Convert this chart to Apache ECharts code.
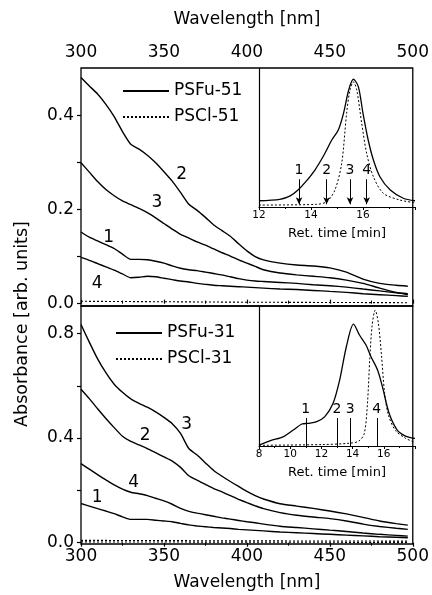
<!DOCTYPE html>
<html>
<head>
    <meta charset="utf-8">
    <title>PSFu / PSCl absorbance</title>
    <script src="https://cdn.jsdelivr.net/npm/echarts@6.0.0/dist/echarts.min.js"></script>
    <style>
        html, body { margin: 0; padding: 0; background: #fff; }
        #chart { width: 432px; height: 595px; }
    </style>
</head>
<body>
<div id="chart"></div>
<script>
    // wavelength grid shared by the UV/vis spectra [nm]
    var wl = [300, 305, 310, 315, 320, 325, 330, 335, 340, 345, 350, 355, 360, 365, 370, 375,
              380, 385, 390, 395, 400, 405, 410, 420, 430, 440, 450, 460, 470, 480, 490, 497];

    // upper panel, PSFu-51 fractions 1..4
    var a51_1 = [.152, .141, .133, .125, .117, .105, .094, .094, .093, .090, .086, .080, .075, .072, .070, .067,
                 .064, .061, .057, .053, .050, .048, .047, .045, .043, .040, .038, .035, .031, .027, .023, .021];
    var a51_2 = [.480, .462, .445, .423, .397, .365, .338, .328, .315, .299, .280, .260, .236, .211, .198, .183,
                 .167, .155, .143, .127, .112, .100, .093, .086, .082, .080, .076, .067, .052, .043, .039, .037];
    var a51_3 = [.299, .279, .259, .242, .229, .218, .210, .202, .193, .182, .170, .158, .147, .139, .131, .124,
                 .116, .108, .101, .093, .086, .079, .072, .065, .061, .058, .055, .050, .043, .033, .024, .019];
    var a51_4 = [.098, .092, .085, .078, .071, .063, .055, .056, .058, .057, .054, .051, .048, .046, .043, .041,
                 .039, .038, .037, .036, .035, .034, .033, .031, .030, .028, .026, .024, .021, .019, .017, .0155];
    // PSCl-51 (precursor) stays near zero
    var wlCl = [300, 400, 497];
    var aCl51 = [0.005, 0.003, 0.002];

    // lower panel, PSFu-31 fractions 1..4
    var a31_1 = [.150, .140, .130, .121, .111, .099, .089, .089, .089, .086, .083, .080, .074, .068, .064, .061,
                 .058, .056, .054, .051, .049, .047, .045, .041, .038, .035, .032, .029, .026, .023, .021, .019];
    var a31_2 = [.587, .551, .512, .475, .440, .407, .387, .374, .360, .344, .328, .312, .288, .256, .239, .223,
                 .207, .194, .180, .166, .153, .141, .130, .115, .105, .098, .092, .083, .071, .062, .055, .051];
    var a31_3 = [.834, .767, .703, .650, .606, .575, .550, .533, .518, .500, .479, .455, .418, .360, .335, .305,
                 .276, .254, .234, .215, .196, .180, .167, .149, .140, .131, .121, .110, .097, .083, .073, .067];
    var a31_4 = [.302, .281, .260, .240, .221, .205, .193, .187, .180, .170, .160, .147, .131, .120, .113, .107,
                 .101, .095, .090, .085, .080, .076, .071, .063, .058, .053, .048, .043, .037, .032, .028, .025];
    var aCl31a = [0.009, 0.007, 0.006];
    var aCl31b = [0.003, 0.002, 0.001];

    // curve numbers written next to the spectra
    var tags = ['1', '2', '3', '4'];
    var tag51Nm = [317, 361, 346, 310];
    var tag51Abs = [0.140, 0.272, 0.213, 0.042];
    var tag31Nm = [310, 339, 364, 332];
    var tag31Abs = [0.171, 0.406, 0.450, 0.229];

    // insets: SEC traces (normalised), ret. time [min]
    var t51Fu = [12, 12.8, 13.2, 13.5, 13.8, 14.15, 14.5, 14.8, 15.05, 15.25, 15.45, 15.63, 15.82, 16.0, 16.2, 16.4, 16.65, 17.05, 17.55, 18];
    var s51Fu = [.045, .055, .08, .122, .182, .266, .374, .482, .554, .674, .842, .919, .866, .674, .482, .338, .218, .122, .063, .045];
    var t51Cl = [12, 14.2, 14.6, 14.92, 15.18, 15.37, 15.5, 15.63, 15.76, 15.95, 16.14, 16.4, 16.78, 17.42, 18];
    var s51Cl = [.014, .019, .038, .122, .314, .674, .842, .9, .842, .602, .386, .218, .099, .05, .031];
    var mk51 = [13.54, 14.6, 15.5, 16.14];

    var t31Fu = [8, 8.74, 9.58, 10.2, 10.75, 11.16, 11.7, 12.22, 12.75, 13.17, 13.6, 14.06, 14.44, 14.86, 15.18, 15.6, 15.91, 16.34, 16.86, 17.39, 17.92, 18];
    var s31Fu = [.007, .038, .067, .114, .157, .162, .174, .21, .305, .471, .709, .871, .793, .721, .638, .543, .424, .234, .114, .071, .055, .054];
    var t31Cl = [8, 12, 13.8, 14.4, 14.75, 14.95, 15.1, 15.25, 15.45, 15.65, 15.85, 16.05, 16.3, 16.75, 17.4, 18];
    var s31Cl = [.005, .01, .02, .035, .09, .3, .62, .86, .97, .88, .65, .38, .22, .11, .055, .025];
    var mk31 = [11.0, 13.0, 13.85, 15.55];

    var FONT = 'DejaVu Sans';

    function pairs(xs, ys) {
        var out = [];
        for (var i = 0; i < xs.length; i++) out.push([xs[i], ys[i]]);
        return out;
    }

    function spectrum(name, ys, idx) {
        return {
            name: name, type: 'line', xAxisIndex: idx, yAxisIndex: idx,
            data: pairs(wl, ys), symbol: 'none', smooth: 0.2,
            itemStyle: { color: '#000' },
            lineStyle: { color: '#000', width: 1.4 }
        };
    }

    function precursor(name, ys, idx) {
        return {
            name: name, type: 'line', xAxisIndex: idx, yAxisIndex: idx,
            data: pairs(wlCl, ys), symbol: 'none',
            itemStyle: { color: '#000' },
            lineStyle: { color: '#000', width: 1.1, type: [2, 2] }
        };
    }

    function tagSeries(nm, ab, idx) {
        var d = [];
        for (var i = 0; i < nm.length; i++) d.push({ value: [nm[i], ab[i]], name: tags[i] });
        return {
            name: 'tags' + idx, type: 'scatter', xAxisIndex: idx, yAxisIndex: idx,
            data: d, symbolSize: 1, itemStyle: { color: '#fff', opacity: 0 },
            label: { show: true, position: [0, 0], align: 'center', verticalAlign: 'middle', formatter: '{b}',
                color: '#000', opacity: 1, fontFamily: FONT, fontSize: 17 }
        };
    }

    function markers(times, top, bottom, arrow) {
        return {
            silent: true,
            symbol: arrow ? ['none', 'arrow'] : ['none', 'none'],
            symbolSize: [5, 7],
            lineStyle: { color: '#000', width: 1, type: 'solid' },
            label: { show: true, position: 'start', formatter: '{b}', color: '#000', fontFamily: FONT, fontSize: 14, distance: 2 },
            emphasis: { disabled: true },
            data: times.map(function (t, i) {
                return [{ coord: [t, top], name: tags[i] }, { coord: [t, bottom] }];
            })
        };
    }

    var mainX = function (idx, pos) {
        return {
            gridIndex: idx, type: 'value', position: pos, min: 300, max: 500, interval: 50,
            name: 'Wavelength [nm]', nameLocation: 'middle', nameGap: pos === 'top' ? 40 : 30,
            nameTextStyle: { color: '#000', fontFamily: FONT, fontSize: 17 },
            axisLine: { show: false },
            axisTick: { show: true, inside: false, length: 4, lineStyle: { color: '#000', width: 1.2 } },
            minorTick: { show: true, splitNumber: 2, length: 3, lineStyle: { color: '#000', width: 1 } },
            axisLabel: { color: '#000', fontFamily: FONT, fontSize: 17, margin: pos === 'top' ? 7 : 4 },
            splitLine: { show: false }
        };
    };

    var mainY = function (idx, min, max, labels, ticks) {
        return {
            gridIndex: idx, type: 'value', min: min, max: max,
            axisLine: { show: false },
            axisTick: { show: true, inside: false, length: 4, customValues: ticks, lineStyle: { color: '#000', width: 1.2 } },
            axisLabel: { color: '#000', fontFamily: FONT, fontSize: 17, margin: 7, customValues: labels,
                formatter: function (v) { return v.toFixed(1); } },
            splitLine: { show: false }
        };
    };

    var insetX = function (idx, min) {
        return {
            gridIndex: idx, type: 'value', min: min, max: 18, interval: 2,
            name: 'Ret. time [min]', nameLocation: 'middle', nameGap: 20,
            nameTextStyle: { color: '#000', fontFamily: FONT, fontSize: 13 },
            axisLine: { show: true, lineStyle: { color: '#000', width: 1.2 } },
            axisTick: { show: true, inside: false, length: 3, lineStyle: { color: '#000' } },
            minorTick: { show: true, splitNumber: 2, length: 2, lineStyle: { color: '#000' } },
            axisLabel: { color: '#000', fontFamily: FONT, fontSize: 10.5, margin: 3,
                formatter: function (v) { return v === 18 ? '' : v; } },
            splitLine: { show: false }
        };
    };

    var insetY = function (idx) {
        return {
            gridIndex: idx, type: 'value', min: 0, max: 1,
            axisLine: { show: true, lineStyle: { color: '#000', width: 1.2 } },
            axisTick: { show: false }, axisLabel: { show: false }, splitLine: { show: false }
        };
    };

    var legendCfg = function (names, left, top) {
        return {
            data: names, left: left, top: top, orient: 'vertical',
            itemWidth: 46, itemHeight: 10, itemGap: 8, padding: 0, selectedMode: false,
            itemStyle: { opacity: 0 },
            textStyle: { color: '#000', fontFamily: FONT, fontSize: 17, lineHeight: 18 }
        };
    };

    var chart = echarts.init(document.getElementById('chart'), null, { renderer: 'canvas' });

    var fuSec51 = {
        name: 'sec51', type: 'line', xAxisIndex: 2, yAxisIndex: 2, data: pairs(t51Fu, s51Fu),
        symbol: 'none', smooth: 0.3, lineStyle: { color: '#000', width: 1.3 },
        markLine: markers(mk51, 0.2, 0.02, true)
    };
    var fuSec31 = {
        name: 'sec31', type: 'line', xAxisIndex: 3, yAxisIndex: 3, data: pairs(t31Fu, s31Fu),
        symbol: 'none', smooth: 0.3, lineStyle: { color: '#000', width: 1.3 },
        markLine: markers(mk31, 0.2, 0, false)
    };

    var option = {
        backgroundColor: '#fff',
        animation: false,
        textStyle: { fontFamily: FONT },
        grid: [
            { left: 81, right: 17, top: 68, height: 238, show: true, borderColor: '#000', borderWidth: 1.3, backgroundColor: 'transparent' },
            { left: 81, right: 17, top: 306, height: 238, show: true, borderColor: '#000', borderWidth: 1.3, backgroundColor: 'transparent' },
            { left: 259, right: 17, top: 68, height: 139 },
            { left: 259, right: 17, top: 306, height: 140 }
        ],
        xAxis: [mainX(0, 'top'), mainX(1, 'bottom'), insetX(2, 12), insetX(3, 8)],
        yAxis: [
            mainY(0, -0.005, 0.5, [0, 0.2, 0.4], [0, 0.1, 0.2, 0.3, 0.4]),
            mainY(1, -0.005, 0.905, [0, 0.4, 0.8], [0, 0.2, 0.4, 0.6, 0.8]),
            insetY(2), insetY(3)
        ],
        legend: [
            legendCfg(['PSFu-51', 'PSCl-51'], 122, 82),
            legendCfg(['PSFu-31', 'PSCl-31'], 115, 324)
        ],
        graphic: [{
            type: 'text', x: 22, y: 324, rotation: Math.PI / 2,
            style: { text: 'Absorbance [arb. units]', fill: '#000', font: '17.5px "DejaVu Sans"', textAlign: 'center', textVerticalAlign: 'middle' }
        }],
        series: [
            spectrum('PSFu-51', a51_1, 0), spectrum('PSFu-51', a51_2, 0),
            spectrum('PSFu-51', a51_3, 0), spectrum('PSFu-51', a51_4, 0),
            precursor('PSCl-51', aCl51, 0),
            spectrum('PSFu-31', a31_1, 1), spectrum('PSFu-31', a31_2, 1),
            spectrum('PSFu-31', a31_3, 1), spectrum('PSFu-31', a31_4, 1),
            precursor('PSCl-31', aCl31a, 1), precursor('PSCl-31', aCl31b, 1),
            tagSeries(tag51Nm, tag51Abs, 0), tagSeries(tag31Nm, tag31Abs, 1),
            fuSec51,
            { name: 'cl51', type: 'line', xAxisIndex: 2, yAxisIndex: 2, data: pairs(t51Cl, s51Cl),
              symbol: 'none', smooth: 0.3, lineStyle: { color: '#000', width: 1, type: [2, 2] } },
            fuSec31,
            { name: 'cl31', type: 'line', xAxisIndex: 3, yAxisIndex: 3, data: pairs(t31Cl, s31Cl),
              symbol: 'none', smooth: 0.3, lineStyle: { color: '#000', width: 1, type: [2, 2] } }
        ]
    };

    chart.setOption(option);
</script>
</body>
</html>
